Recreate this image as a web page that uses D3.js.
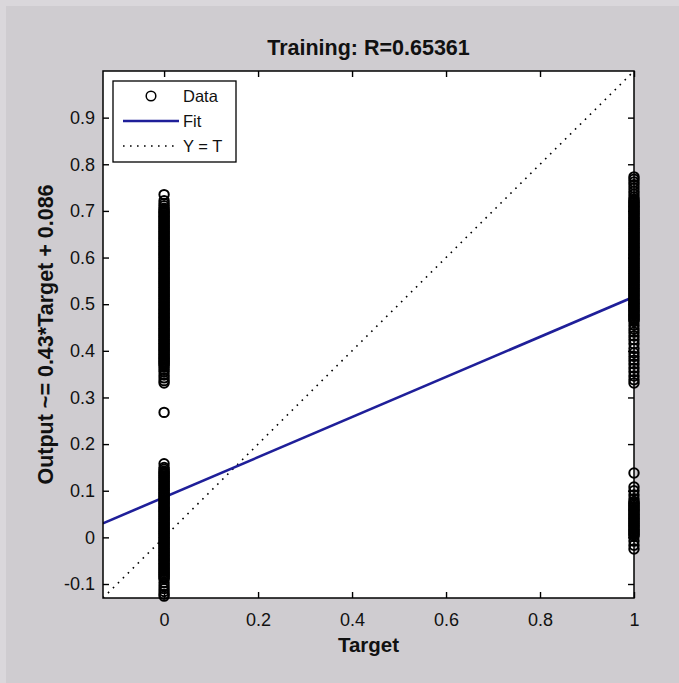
<!DOCTYPE html>
<html>
<head>
<meta charset="utf-8">
<script src="https://cdn.jsdelivr.net/npm/d3@7"></script>
<style>
  html, body { margin: 0; padding: 0; background: #cfccd0; }
  svg { display: block; }
  text { font-family: "Liberation Sans", Arial, sans-serif; }
</style>
</head>
<body>
<svg id="chart" width="679" height="683"></svg>
<script>
// ---------------- data ----------------
const titleText = "Training: R=0.65361";
const xLabelText = "Target";
const yLabelText = "Output ~= 0.43*Target + 0.086";
const fitSlope = 0.43;
const fitIntercept = 0.086;
const axisDomain = [-0.13, 1];

const xTickValues = [0, 0.2, 0.4, 0.6, 0.8, 1];
const xTickLabels = ["0", "0.2", "0.4", "0.6", "0.8", "1"];
const yTickValues = [-0.1, 0, 0.1, 0.2, 0.3, 0.4, 0.5, 0.6, 0.7, 0.8, 0.9];
const yTickLabels = ["-0.1", "0", "0.1", "0.2", "0.3", "0.4", "0.5", "0.6", "0.7", "0.8", "0.9"];

const legendLabels = ["Data", "Fit", "Y = T"];

// outputs for samples whose target is 0
const outputsTarget0 = [
  0.735, 0.722, 0.716, 0.711, 0.706, 0.703,
  0.700, 0.697, 0.695, 0.692, 0.689, 0.687, 0.684, 0.681, 0.679, 0.676, 0.673, 0.671, 0.668, 0.665,
  0.663, 0.660, 0.657, 0.655, 0.652, 0.649, 0.647, 0.644, 0.641, 0.639, 0.636, 0.633, 0.631, 0.628,
  0.625, 0.623, 0.620, 0.617, 0.615, 0.612, 0.609, 0.607, 0.604, 0.601, 0.599, 0.596, 0.593, 0.591,
  0.588, 0.585, 0.583, 0.580, 0.577, 0.575, 0.572, 0.569, 0.567, 0.564, 0.561, 0.559, 0.556, 0.553,
  0.551, 0.548, 0.545, 0.543, 0.540, 0.537, 0.535, 0.532, 0.529, 0.527, 0.524, 0.521, 0.519, 0.516,
  0.513, 0.511, 0.508, 0.505, 0.503, 0.500, 0.497, 0.495, 0.492, 0.489, 0.487, 0.484, 0.481, 0.479,
  0.476, 0.473, 0.471, 0.468, 0.465, 0.463, 0.460, 0.457, 0.455, 0.452, 0.449, 0.447, 0.444, 0.441,
  0.439, 0.436, 0.433, 0.431, 0.428, 0.425, 0.423, 0.420, 0.417, 0.415, 0.412, 0.409, 0.407, 0.404,
  0.401, 0.399, 0.396, 0.393, 0.391, 0.388, 0.385, 0.383, 0.380, 0.377, 0.375, 0.372, 0.369,
  0.365, 0.360, 0.355, 0.348, 0.342, 0.336, 0.331,
  0.268,
  0.158, 0.150, 0.146, 0.142,
  0.140, 0.137, 0.135, 0.132, 0.129, 0.127, 0.124, 0.121, 0.119, 0.116, 0.113, 0.111, 0.108, 0.105,
  0.103, 0.100, 0.097, 0.095, 0.092, 0.089, 0.087, 0.084, 0.081, 0.079, 0.076, 0.073, 0.071, 0.068,
  0.065, 0.063, 0.060, 0.057, 0.055, 0.052, 0.049, 0.047, 0.044, 0.041, 0.039, 0.036, 0.033, 0.031,
  0.028, 0.025, 0.023, 0.020, 0.017, 0.015, 0.012, 0.009, 0.007, 0.004, 0.001, -0.001, -0.004,
  -0.007, -0.009, -0.012, -0.015, -0.017, -0.020, -0.023, -0.025, -0.028, -0.031, -0.033, -0.036,
  -0.039, -0.041, -0.044, -0.047, -0.049, -0.052, -0.055, -0.057, -0.060, -0.063, -0.065, -0.068,
  -0.071, -0.073, -0.076, -0.079, -0.081, -0.084, -0.087, -0.089,
  -0.097, -0.104, -0.110, -0.116, -0.122, -0.126
];

// outputs for samples whose target is 1
const outputsTarget1 = [
  0.773, 0.768, 0.762, 0.756, 0.749, 0.742, 0.736, 0.730, 0.725,
  0.722, 0.719, 0.717, 0.714, 0.711, 0.709, 0.706, 0.703, 0.701, 0.698, 0.695, 0.693, 0.690, 0.687,
  0.685, 0.682, 0.679, 0.677, 0.674, 0.671, 0.669, 0.666, 0.663, 0.661, 0.658, 0.655, 0.653, 0.650,
  0.647, 0.645, 0.642, 0.639, 0.637, 0.634, 0.631, 0.629, 0.626, 0.623, 0.621, 0.618, 0.615, 0.613,
  0.610, 0.607, 0.605, 0.602, 0.599, 0.597, 0.594, 0.591, 0.589, 0.586, 0.583, 0.581, 0.578, 0.575,
  0.573, 0.570, 0.567, 0.565, 0.562, 0.559, 0.557, 0.554, 0.551, 0.549, 0.546, 0.543, 0.541, 0.538,
  0.535, 0.533, 0.530, 0.527, 0.525, 0.522, 0.519, 0.517, 0.514, 0.511, 0.509, 0.506, 0.503, 0.501,
  0.498, 0.495, 0.493, 0.490, 0.487, 0.485, 0.482, 0.479, 0.477, 0.474, 0.471, 0.469, 0.466, 0.463,
  0.455, 0.447, 0.440, 0.432, 0.424, 0.415, 0.405, 0.396, 0.388, 0.380, 0.372, 0.363, 0.355, 0.346,
  0.338, 0.331,
  0.138, 0.108, 0.100, 0.091, 0.083,
  0.077, 0.074, 0.072, 0.069, 0.066, 0.064, 0.061, 0.058, 0.056, 0.053, 0.050, 0.048, 0.045, 0.042,
  0.040, 0.037, 0.034, 0.032, 0.029, 0.026, 0.024, 0.021, 0.018, 0.016, 0.013, 0.010, 0.008, 0.005,
  0.002,
  -0.008, -0.017, -0.025
];

// ---------------- drawing ----------------
const svg = d3.select("#chart");
const W = 679, H = 683;
const plot = { left: 103, right: 634, top: 71, bottom: 598 };

// figure frame
svg.append("rect").attr("x", 0).attr("y", 0).attr("width", W).attr("height", H).attr("fill", "#dad7db");
svg.append("rect").attr("x", 6).attr("y", 6).attr("width", W - 6).attr("height", H - 6).attr("fill", "#cfccd0");

const x = d3.scaleLinear().domain(axisDomain).range([plot.left, plot.right]);
const y = d3.scaleLinear().domain(axisDomain).range([plot.bottom, plot.top]);

svg.append("rect")
  .attr("x", plot.left).attr("y", plot.top)
  .attr("width", plot.right - plot.left).attr("height", plot.bottom - plot.top)
  .attr("fill", "#ffffff");

svg.append("defs").append("clipPath").attr("id", "clip")
  .append("rect")
  .attr("x", plot.left).attr("y", plot.top)
  .attr("width", plot.right - plot.left).attr("height", plot.bottom - plot.top);

const g = svg.append("g").attr("clip-path", "url(#clip)");

// Y = T dotted line
g.append("line")
  .attr("x1", x(axisDomain[0])).attr("y1", y(axisDomain[0]))
  .attr("x2", x(axisDomain[1])).attr("y2", y(axisDomain[1]))
  .attr("stroke", "#000").attr("stroke-width", 1.6)
  .attr("stroke-dasharray", "1.6,5.4");

// fit line
g.append("line")
  .attr("x1", x(axisDomain[0])).attr("y1", y(fitSlope * axisDomain[0] + fitIntercept))
  .attr("x2", x(axisDomain[1])).attr("y2", y(fitSlope * axisDomain[1] + fitIntercept))
  .attr("stroke", "#1f1f99").attr("stroke-width", 2.6);

// axes (inward ticks on all four sides)
const tickFontSize = 18;
const xFmt = d => xTickLabels[xTickValues.indexOf(d)];
const yFmt = d => yTickLabels[yTickValues.indexOf(d)];

const axB = svg.append("g").attr("transform", `translate(0,${plot.bottom})`)
  .call(d3.axisBottom(x).tickValues(xTickValues).tickFormat(xFmt).tickSizeInner(-6).tickSizeOuter(0).tickPadding(15));
const axL = svg.append("g").attr("transform", `translate(${plot.left},0)`)
  .call(d3.axisLeft(y).tickValues(yTickValues).tickFormat(yFmt).tickSizeInner(-6).tickSizeOuter(0).tickPadding(8));
const axT = svg.append("g").attr("transform", `translate(0,${plot.top})`)
  .call(d3.axisTop(x).tickValues(xTickValues).tickFormat("").tickSizeInner(-6).tickSizeOuter(0));
const axR = svg.append("g").attr("transform", `translate(${plot.right},0)`)
  .call(d3.axisRight(y).tickValues(yTickValues).tickFormat("").tickSizeInner(-6).tickSizeOuter(0));

[axB, axL, axT, axR].forEach(a => {
  a.select(".domain").remove();
  a.selectAll(".tick line").attr("stroke", "#000").attr("stroke-width", 1.4);
  a.selectAll(".tick text")
    .attr("fill", "#111")
    .style("font-family", "'Liberation Sans', Arial, sans-serif")
    .style("font-size", tickFontSize + "px");
});

// axes box
svg.append("rect")
  .attr("x", plot.left).attr("y", plot.top)
  .attr("width", plot.right - plot.left).attr("height", plot.bottom - plot.top)
  .attr("fill", "none").attr("stroke", "#000").attr("stroke-width", 1.5);

// data circles (markers are not clipped at the axes edge)
const pts = outputsTarget0.map(v => ({ t: 0, o: v }))
  .concat(outputsTarget1.map(v => ({ t: 1, o: v })));
svg.append("g").selectAll("circle.data").data(pts).enter().append("circle")
  .attr("class", "data")
  .attr("cx", d => x(d.t)).attr("cy", d => y(d.o))
  .attr("r", 4.7).attr("fill", "none")
  .attr("stroke", "#000").attr("stroke-width", 2.0);

// title and axis labels
const cx = (plot.left + plot.right) / 2;
const cy = (plot.top + plot.bottom) / 2;
svg.append("text").attr("x", cx).attr("y", 55)
  .attr("text-anchor", "middle").attr("font-size", 21.5).attr("font-weight", "bold")
  .attr("fill", "#111").text(titleText);
svg.append("text").attr("x", cx).attr("y", 652)
  .attr("text-anchor", "middle").attr("font-size", 20.5).attr("font-weight", "bold")
  .attr("fill", "#111").text(xLabelText);
svg.append("text")
  .attr("transform", `translate(53,${cy}) rotate(-90)`)
  .attr("text-anchor", "middle").attr("font-size", 21.5).attr("font-weight", "bold")
  .attr("fill", "#111").text(yLabelText);

// legend
const lg = svg.append("g");
lg.append("rect").attr("x", 113).attr("y", 81).attr("width", 123).attr("height", 81)
  .attr("fill", "#fff").attr("stroke", "#000").attr("stroke-width", 1.3);
const rowY = [96, 121, 146];
lg.append("circle").attr("cx", 151).attr("cy", rowY[0]).attr("r", 4.8)
  .attr("fill", "none").attr("stroke", "#000").attr("stroke-width", 1.5);
lg.append("line").attr("x1", 123).attr("x2", 179).attr("y1", rowY[1]).attr("y2", rowY[1])
  .attr("stroke", "#1f1f99").attr("stroke-width", 2.6);
lg.append("line").attr("x1", 123).attr("x2", 179).attr("y1", rowY[2]).attr("y2", rowY[2])
  .attr("stroke", "#000").attr("stroke-width", 1.6).attr("stroke-dasharray", "1.6,5.4");
lg.selectAll("text.leg").data(legendLabels).enter().append("text")
  .attr("class", "leg")
  .attr("x", 183).attr("y", (d, i) => rowY[i] + 6)
  .attr("font-size", 16.5).attr("fill", "#111").text(d => d);
</script>
</body>
</html>
